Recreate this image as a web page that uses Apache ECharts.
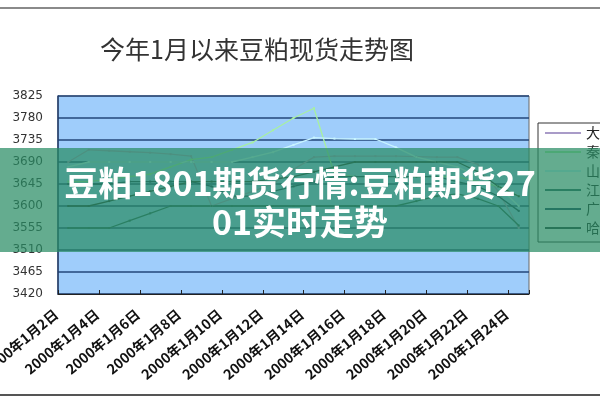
<!DOCTYPE html>
<html>
<head>
<meta charset="utf-8">
<script src="https://cdn.jsdelivr.net/npm/echarts@6/dist/echarts.min.js"></script>
<style>html,body{margin:0;padding:0;background:#fff}#c{width:600px;height:400px}</style>
</head>
<body>
<div id="c"></div>
<script>
var categories = ['2000年1月2日','2000年1月3日','2000年1月4日','2000年1月5日','2000年1月6日','2000年1月7日','2000年1月8日','2000年1月9日','2000年1月10日','2000年1月11日','2000年1月12日','2000年1月13日','2000年1月14日','2000年1月15日','2000年1月16日','2000年1月17日','2000年1月18日','2000年1月19日','2000年1月20日','2000年1月21日','2000年1月22日','2000年1月23日','2000年1月24日'];
var seriesNames = ['大连','秦皇岛','山东','江苏','广东','哈尔滨'];
var dalian   = [3690,3715,3713,3711,3709,3706,3702,3600,3615,3630,3645,3675,3700,3702,3702,3702,3702,3701,3700,3700,3685,3630,3555];
var qinhuang = [3650,3650,3655,3660,3665,3680,3695,3700,3715,3730,3755,3780,3800,3665,3660,3660,3660,3660,3660,3660,3650,3640,3620];
var shandong = [3680,3690,3690,3690,3690,3690,3690,3690,3690,3700,3710,3725,3740,3738,3737,3737,3720,3700,3690,3680,3660,3640,3600];
var jiangsu  = [3555,3555,3555,3570,3585,3600,3600,3600,3600,3600,3600,3600,3600,3600,3600,3600,3600,3610,3620,3625,3615,3600,3560];
var guangdong= [3645,3645,3645,3650,3650,3650,3650,3640,3620,3620,3630,3640,3650,3660,3660,3660,3660,3660,3660,3650,3640,3620,3590];
var haerbin  = [3600,3600,3610,3620,3630,3640,3650,3650,3650,3650,3655,3660,3670,3680,3690,3690,3690,3690,3690,3690,3670,3640,3620];
var yMin = 3420, yMax = 3825, yStep = 45;
var colors = ['#a99bc8','#a8f0a0','#c8f4ff','#2f5f5f','#1f3f5f','#2a3a3a'];
var dataList = [dalian, qinhuang, shandong, jiangsu, guangdong, haerbin];

var chart = echarts.init(document.getElementById('c'));
var series = seriesNames.map(function(n, k){
  return {
    name: n, type: 'line', data: dataList[k],
    symbol: 'rect', symbolSize: 2, showSymbol: true,
    lineStyle: {width: 1.3, color: colors[k]},
    itemStyle: {color: colors[k]},
    z: 3
  };
});
chart.setOption({
  animation: false,
  color: colors,
  title: {
    text: '今年1月以来豆粕现货走势图',
    left: 95, top: 32,
    textStyle: {fontFamily: 'Noto Sans CJK SC', fontSize: 25, fontWeight: 'normal', color: '#333'}
  },
  legend: {
    orient: 'vertical', left: 538, top: 123,
    padding: [3, 6, 7, 7],
    itemWidth: 36, itemHeight: 2, itemGap: 5,
    icon: 'rect',
    borderColor: '#333', borderWidth: 1, backgroundColor: '#fff',
    textStyle: {fontFamily: 'Noto Sans CJK SC', fontSize: 14, lineHeight: 14, color: '#222'},
    data: seriesNames
  },
  grid: {
    left: 58, right: 71, top: 96, bottom: 106,
    outerBoundsMode: 'none', containLabel: false,
    show: true, backgroundColor: '#9fcdfb', borderColor: '#666', borderWidth: 1
  },
  xAxis: {
    type: 'category', data: categories, boundaryGap: true,
    axisLine: {show: true, lineStyle: {color: '#222', width: 1}},
    axisTick: {show: true, inside: true, length: 4, interval: 1, lineStyle: {color: '#222'}},
    axisLabel: {interval: 1, rotate: 40, margin: 8, padding: [0, 16, 0, 0], fontSize: 14, fontWeight: 'bold', color: '#111', fontFamily: 'Noto Sans CJK SC', hideOverlap: false},
    splitLine: {show: false}
  },
  yAxis: {
    type: 'value', min: yMin, max: yMax, interval: yStep,
    axisLine: {show: true, lineStyle: {color: '#1f3c6e', width: 1.5}},
    axisTick: {show: false},
    axisLabel: {margin: 15, fontSize: 12, color: '#333', fontFamily: 'DejaVu Sans', formatter: function(v){ return String(v); }},
    splitLine: {show: true, lineStyle: {color: '#23467a', width: 1.6}}
  },
  series: series,
  graphic: [
    {type: 'line', shape: {x1: 0, y1: 8, x2: 600, y2: 8}, style: {stroke: '#8a8a8a', lineWidth: 2}, z: 50},
    {type: 'line', shape: {x1: 0, y1: 395, x2: 600, y2: 395}, style: {stroke: '#555', lineWidth: 2}, z: 50},
    {type: 'rect', shape: {x: 0, y: 148, width: 600, height: 104}, style: {fill: 'rgba(40,140,100,0.72)'}, z: 100},
    {type: 'text', x: 300, y: 183, z: 101, style: {text: '豆粕1801期货行情:豆粕期货27', fill: '#fff', font: 'bold 34px "Noto Sans CJK SC"', textAlign: 'center', textVerticalAlign: 'middle'}},
    {type: 'text', x: 300, y: 222, z: 101, style: {text: '01实时走势', fill: '#fff', font: 'bold 34px "Noto Sans CJK SC"', textAlign: 'center', textVerticalAlign: 'middle'}}
  ]
});
</script>
</body>
</html>
